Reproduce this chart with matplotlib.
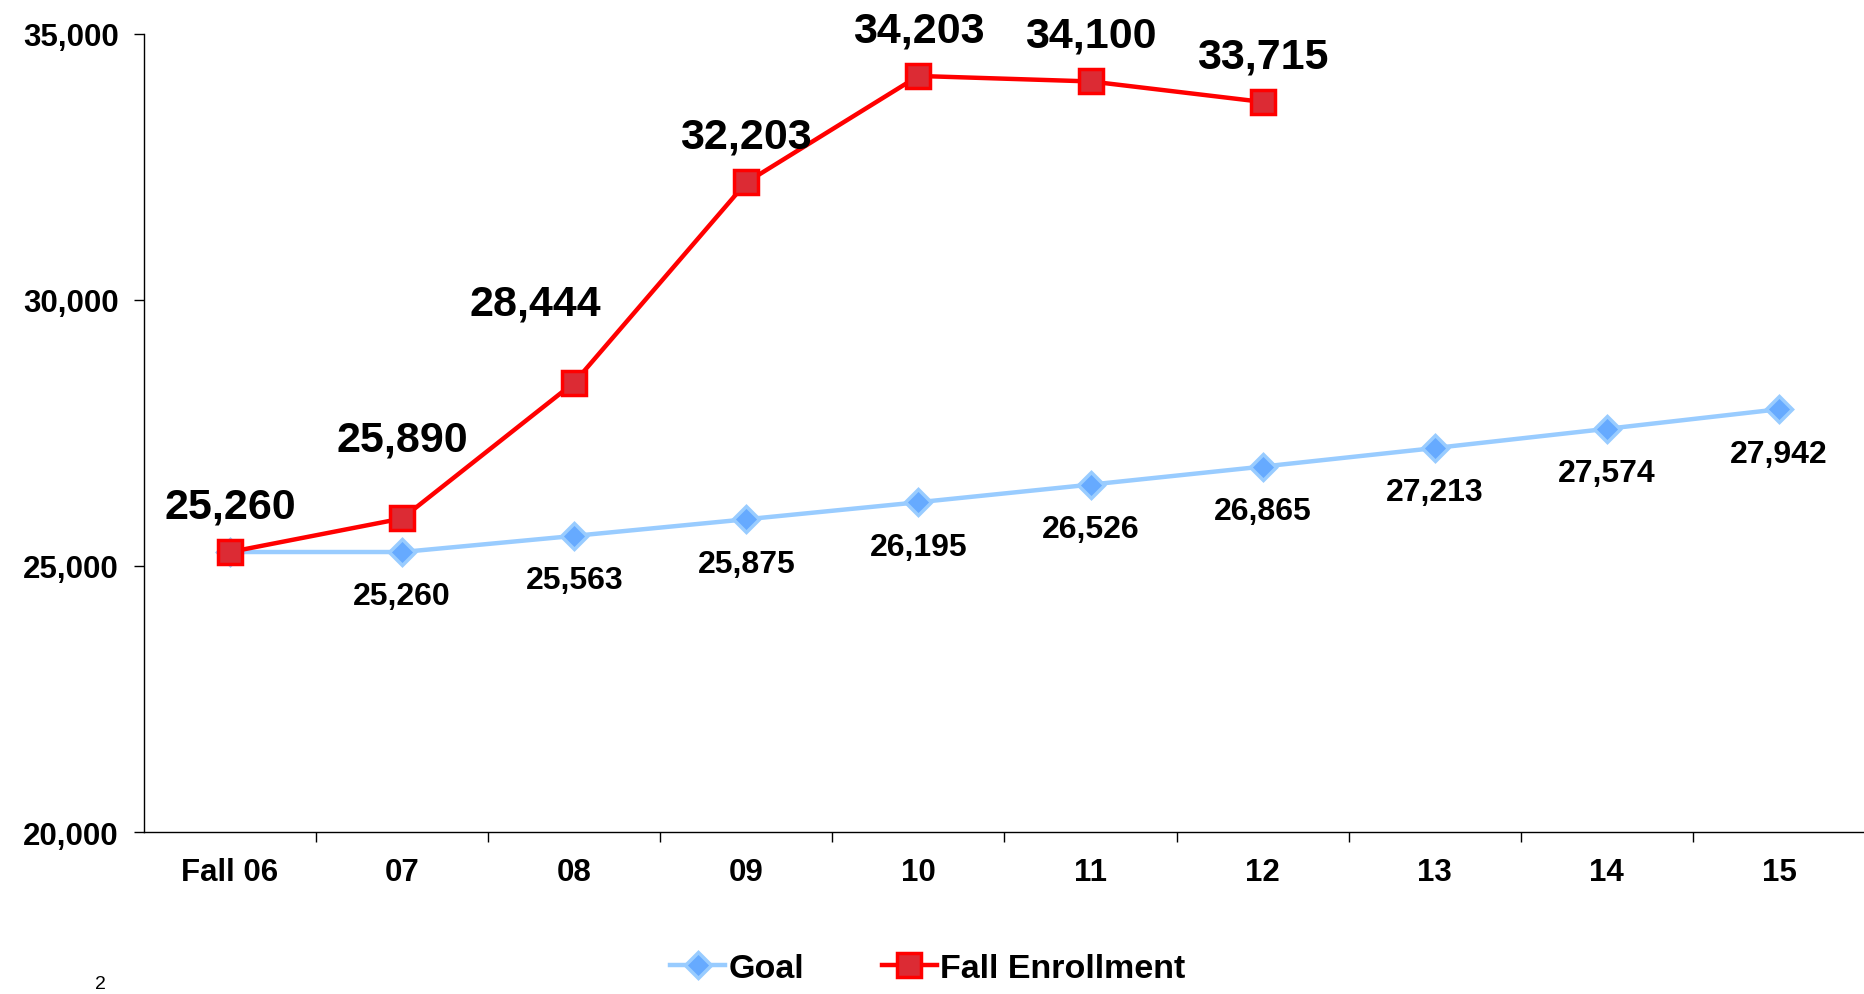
import numpy as np
import matplotlib
matplotlib.use("Agg")
import matplotlib.pyplot as plt
from matplotlib.ticker import FuncFormatter

plt.rcParams['font.family'] = ['Liberation Sans', 'DejaVu Sans']
plt.rcParams['font.weight'] = 'bold'

years = ['Fall 06', '07', '08', '09', '10', '11', '12', '13', '14', '15']
goal = [25260, 25260, 25563, 25875, 26195, 26526, 26865, 27213, 27574, 27942]
enrollment = [25260, 25890, 28444, 32203, 34203, 34100, 33715]

# label offsets in points (dx, dy) for the enrollment labels
enroll_offsets = [(0, 33), (0, 57), (-28, 57), (0, 33), (0, 33), (0, 33), (0, 33)]

fig = plt.figure(figsize=(18.65, 9.95), dpi=100)
ax = fig.add_axes([0.0772, 0.1628, 0.9228, 0.8025])

x = np.arange(len(years))
ax.plot(x, goal, color='#99CCFF', lw=3.2, marker='D', ms=13,
        mfc='#66AAFF', mec='#99CCFF', mew=2.5, label='Goal', zorder=2)
ax.plot(x[:len(enrollment)], enrollment, color='#FF0000', lw=3.2, marker='s', ms=17,
        mfc='#DC2B34', mec='#FF0000', mew=2.5, label='Fall Enrollment', zorder=3)

for i, v in enumerate(goal):
    if i == 0:
        continue
    ax.annotate(f'{v:,}', (x[i], v), xytext=(0, -32), textcoords='offset points',
                ha='center', va='center', fontsize=23, fontweight='bold')

for i, v in enumerate(enrollment):
    dx, dy = enroll_offsets[i]
    ax.annotate(f'{v:,}', (x[i], v), xytext=(dx, dy), textcoords='offset points',
                ha='center', va='center', fontsize=31, fontweight='bold')

ax.set_xlim(-0.5, len(years) - 0.5)
ax.set_ylim(20000, 35000)
ax.set_yticks([20000, 25000, 30000, 35000])
ax.yaxis.set_major_formatter(FuncFormatter(lambda v, p: f'{int(v):,}'))
ax.set_xticks(x)
ax.set_xticklabels(years)
ax.set_xticks(np.arange(0.5, len(years) - 0.5, 1), minor=True)
ax.tick_params(axis='x', which='major', length=0, pad=18, labelsize=22.5)
ax.tick_params(axis='x', which='minor', length=7, width=1, direction='out')
ax.tick_params(axis='y', length=7, width=1, pad=11, labelsize=22.5)

for s in ['top', 'right']:
    ax.spines[s].set_visible(False)
for s in ['left', 'bottom']:
    ax.spines[s].set_linewidth(1)

fig.legend(loc='center', bbox_to_anchor=(0.4975, 0.026), ncol=2, frameon=False,
           handlelength=1.6, handletextpad=0.1, columnspacing=2.3,
           prop={'size': 24.5, 'weight': 'bold'})

fig.text(0.054, 0.002, '2', fontsize=14, fontweight='normal', va='bottom', ha='center')

fig.savefig('out.png', dpi=100)
